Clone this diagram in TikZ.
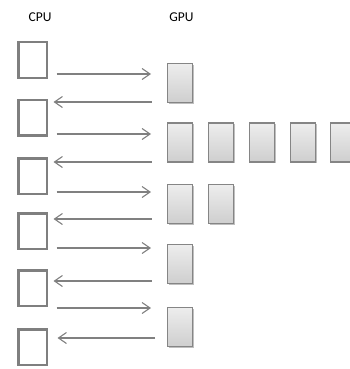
\documentclass[tikz,border=0pt]{standalone}
\usepackage{fontspec}
\setmainfont{Carlito}
\usetikzlibrary{arrows.meta,shadows}
\definecolor{cpuline}{HTML}{7F7F7F}
\definecolor{gpuline}{HTML}{858585}
\definecolor{arrowc}{HTML}{808080}
\tikzset{
  cpubox/.style={draw=cpuline,line width=2.5pt,fill=white,minimum width=28.5pt,minimum height=35.5pt,inner sep=0pt},
  gpubox/.style={draw=gpuline,line width=1.3pt,top color=gray!14,bottom color=gray!38,minimum width=25pt,minimum height=39pt,inner sep=0pt,
    drop shadow={shadow xshift=1pt,shadow yshift=-1.2pt,opacity=0.25,fill=black}},
  link/.style={draw=arrowc,line width=1.1pt,-{Straight Barb[length=8pt,width=11pt,line width=1.1pt]}},
  lbl/.style={font=\fontsize{13.5}{16}\selectfont,inner sep=0pt}
}
\begin{document}
\begin{tikzpicture}[x=1pt,y=-1pt]
\useasboundingbox (0,0) rectangle (350,369);
\node[lbl] (cpul) at (40,17) {CPU};
\node[lbl] (gpul) at (181.5,17) {GPU};
% CPU boxes
\foreach \i/\y in {1/60,2/117.5,3/176,4/231,5/288,6/347}
  \node[cpubox] (c\i) at (32.5,\y) {};
% GPU boxes
\node[gpubox] (g1) at (180,83) {};
\foreach \i/\x in {1/180,2/221,3/262,4/303,5/343}
  \node[gpubox] (g2\i) at (\x,142.5) {};
\node[gpubox] (g31) at (180,204) {};
\node[gpubox] (g32) at (221,204) {};
\node[gpubox] (g4) at (180,264) {};
\node[gpubox] (g5) at (180,327) {};
% arrow end coordinates
\foreach \k/\y in {1/74,2/134,3/192,4/248,5/308} {
  \coordinate (rs\k) at (56.5,\y);
  \coordinate (re\k) at (151,\y);
}
\foreach \k/\y in {1/102,2/162,3/219,4/281} {
  \coordinate (ls\k) at (151.5,\y);
  \coordinate (le\k) at (53.5,\y);
}
\coordinate (ls5) at (155,338);
\coordinate (le5) at (57.5,338);
\foreach \k in {1,...,5} {
  \draw[link] (rs\k) -- (re\k);
  \draw[link] (ls\k) -- (le\k);
}
\end{tikzpicture}
\end{document}
